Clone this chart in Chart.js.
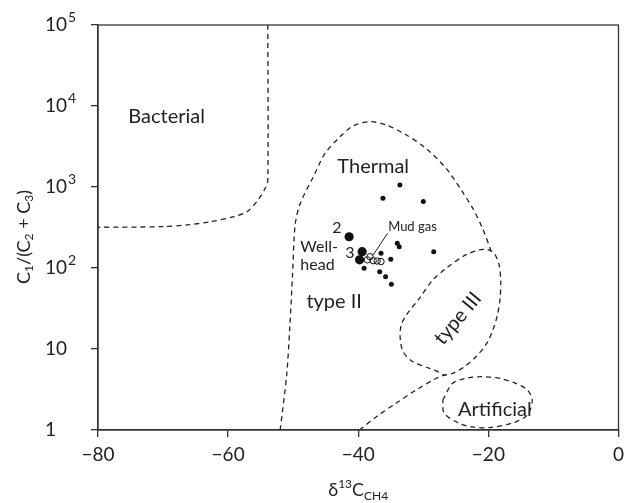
<!DOCTYPE html>
<html>
<head>
<meta charset="utf-8">
<script src="https://cdn.jsdelivr.net/npm/chart.js@4.4.0/dist/chart.umd.min.js"></script>
<style>
html,body{margin:0;padding:0;background:#fff;}
</style>
</head>
<body>
<canvas id="chart" width="630" height="503"></canvas>
<script>
const xTicks=[-80,-60,-40,-20,0];
const yTicks=[1,10,100,1000,10000,100000];
const yTickBase=['1','10','10','10','10','10'];
const yTickExp=['','','2','3','4','5'];

// filled small dots
const sampleX=[-33.6,-36.2,-30.0,-34.0,-33.7,-28.4,-36.5,-35.0,-39.1,-36.7,-35.8,-34.9];
const sampleY=[1060,725,660,202,183,159,152,128,99,90,78,63];
// well-head (big dots)
const wellX=[-41.4,-39.4,-39.8];
const wellY=[243,159,126];
// mud gas (open circles)
const mudX=[-38.2,-38.6,-37.7,-37.1,-36.5];
const mudY=[138,126,123,122,120];

// field boundaries
const bactX=[-53.9,-53.9,-54.3,-55.6,-57.1,-59.1,-62.7,-66.3,-70.3,-80];
const bactY=[100000,1220,964,659,495,430,373,340,324,318];
const thermX=[-52.0,-51.0,-50.5,-50.1,-49.7,-48.9,-46.9,-45.1,-42.8,-40.8,-38.2,-35.7,-32.6,-29.6,-26.5,-24.0,-22.4,-20.9,-19.6];
const thermY=[1,4.8,19.8,82,340,629,1340,2600,4180,5670,6400,5830,4390,3000,1700,875,546,309,165];
const lowX=[-39.8,-37.2,-34.2,-31.1,-28.0,-26.5];
const lowY=[1,1.46,2.14,3.12,4.35,4.85];
const type3X=[-20.1,-19.1,-18.35,-18.1,-18.2,-18.6,-19.4,-20.4,-21.9,-23.7,-25.5,-27.0,-27.8,-29.05,-31.6,-33.1,-33.55,-33.4,-32.6,-30.6,-28.55,-26.5,-23.5,-21.4,-20.1];
const type3Y=[170,152,109,68,42.3,26.3,16.4,11.2,8.04,6.04,5.01,4.78,5.25,5.78,6.97,9.26,13.6,19.8,26.3,42.3,71,99,145,167,170];
const artX=[-27.0,-25.5,-23.2,-20.9,-18.15,-15.8,-14.0,-13.26,-14.0,-16.3,-19.9,-22.4,-24.5,-26.8,-27.0];
const artY=[2.35,3.77,4.38,4.55,4.32,3.77,3.12,2.35,1.53,1.22,1.07,1.09,1.21,1.61,2.35];

const mudLeaderX=[-35.5,-37.7];
const mudLeaderY=[268,145];

const FONT='Lato, "Open Sans", sans-serif';
const INK='#222';

function pts(xs,ys){ return xs.map((x,i)=>({x:x,y:ys[i]})); }

function boundary(xs,ys){
    return {data:pts(xs,ys), showLine:true, borderColor:INK, borderWidth:1.3,
        borderDash:[5,4], pointRadius:0, tension:0.3, fill:false};
}

// text notes, placed in data units
const notes=[
    {t:'Bacterial', x:-69.45, y:7380, size:20},
    {t:'Thermal', x:-37.7, y:1780, size:20},
    {t:'2', x:-43.3, y:309, size:16},
    {t:'3', x:-41.3, y:152, size:16},
    {t:'Well-', x:-48.9, y:183, size:16, align:'left'},
    {t:'head', x:-48.9, y:109, size:16, align:'left'},
    {t:'Mud gas', x:-35.4, y:324, size:13, align:'left'},
    {t:'type II', x:-43.7, y:38.4, size:20},
    {t:'type III', x:-24.7, y:23.9, size:20, rot:-50},
    {t:'Artificial', x:-19.0, y:1.77, size:20}
];

const decor={
    id:'decor',
    afterDraw(chart){
        const ctx=chart.ctx, a=chart.chartArea;
        const xs=chart.scales.x, ys=chart.scales.y;
        ctx.save();
        ctx.strokeStyle='#333';
        ctx.lineWidth=1.3;
        ctx.strokeRect(a.left,a.top,a.right-a.left,a.bottom-a.top);

        ctx.fillStyle=INK;
        ctx.textBaseline='middle';
        ctx.textAlign='left';
        yTicks.forEach((v,i)=>{
            const py=ys.getPixelForValue(v);
            ctx.font='19px '+FONT;
            ctx.fillText(yTickBase[i],45,py);
            if (yTickExp[i]) {
                const w=ctx.measureText(yTickBase[i]).width;
                ctx.font='14px '+FONT;
                ctx.fillText(yTickExp[i],45+w+1,py-8);
            }
        });

        // y title: C1/(C2 + C3)
        ctx.save();
        ctx.translate(24,237);
        ctx.rotate(-Math.PI/2);
        const parts=[['C',0],['1',1],['/(C',0],['2',1],[' + C',0],['3',1],[')',0]];
        let total=0;
        parts.forEach(p=>{ ctx.font=(p[1]?'12px ':'18px ')+FONT; total+=ctx.measureText(p[0]).width; });
        let cx=-total/2;
        parts.forEach(p=>{
            ctx.font=(p[1]?'12px ':'18px ')+FONT;
            ctx.fillText(p[0],cx,p[1]?5:0);
            cx+=ctx.measureText(p[0]).width;
        });
        ctx.restore();

        // x title: δ13C CH4
        const xp=[['\u03B4',0],['13',-1],['C',0],['CH4',1]];
        let tw=0;
        xp.forEach(p=>{ ctx.font=(p[1]?'12px ':'18px ')+FONT; tw+=ctx.measureText(p[0]).width; });
        let tx=(a.left+a.right)/2-tw/2;
        xp.forEach(p=>{
            ctx.font=(p[1]?'12px ':'18px ')+FONT;
            ctx.fillText(p[0],tx,490+p[1]*6);
            tx+=ctx.measureText(p[0]).width;
        });

        notes.forEach(n=>{
            const px=xs.getPixelForValue(n.x), py=ys.getPixelForValue(n.y);
            ctx.save();
            ctx.translate(px,py);
            if (n.rot) ctx.rotate(n.rot*Math.PI/180);
            ctx.font=n.size+'px '+FONT;
            ctx.textAlign=n.align||'center';
            ctx.fillText(n.t,0,0);
            ctx.restore();
        });
        ctx.restore();
    }
};

const axisGrid={drawOnChartArea:false, drawTicks:true, tickLength:7, color:'#333', lineWidth:1.3};

new Chart(document.getElementById('chart'),{
    type:'scatter',
    data:{datasets:[
        boundary(bactX,bactY),
        boundary(thermX,thermY),
        boundary(lowX,lowY),
        boundary(type3X,type3Y),
        boundary(artX,artY),
        {data:pts(mudLeaderX,mudLeaderY), showLine:true, borderColor:INK, borderWidth:1, pointRadius:0},
        {data:pts(sampleX,sampleY), pointRadius:2.5, backgroundColor:'#111', borderColor:'#111', borderWidth:0},
        {data:pts(wellX,wellY), pointRadius:4.6, backgroundColor:'#111', borderColor:'#111', borderWidth:0},
        {data:pts(mudX,mudY), pointRadius:3.2, backgroundColor:'rgba(255,255,255,0)', borderColor:'#111', borderWidth:1}
    ]},
    options:{
        responsive:false,
        animation:false,
        layout:{padding:{top:25,right:8,left:0,bottom:0}},
        plugins:{legend:{display:false}, tooltip:{enabled:false}},
        scales:{
            x:{
                type:'linear', min:-80, max:0,
                afterBuildTicks:s=>{ s.ticks=xTicks.map(v=>({value:v})); },
                afterFit:s=>{ s.height=73; },
                grid:axisGrid,
                border:{display:true, color:'#333', width:1.3},
                ticks:{font:{family:FONT, size:19}, color:INK, padding:6, maxRotation:0,
                    callback:v=>v<0?'\u2212'+Math.abs(v):String(v)}
            },
            y:{
                type:'logarithmic', min:1, max:100000,
                afterBuildTicks:s=>{ s.ticks=yTicks.map(v=>({value:v})); },
                afterFit:s=>{ s.width=98; },
                grid:axisGrid,
                border:{display:true, color:'#333', width:1.3},
                ticks:{display:false}
            }
        }
    },
    plugins:[decor]
});
</script>
</body>
</html>
